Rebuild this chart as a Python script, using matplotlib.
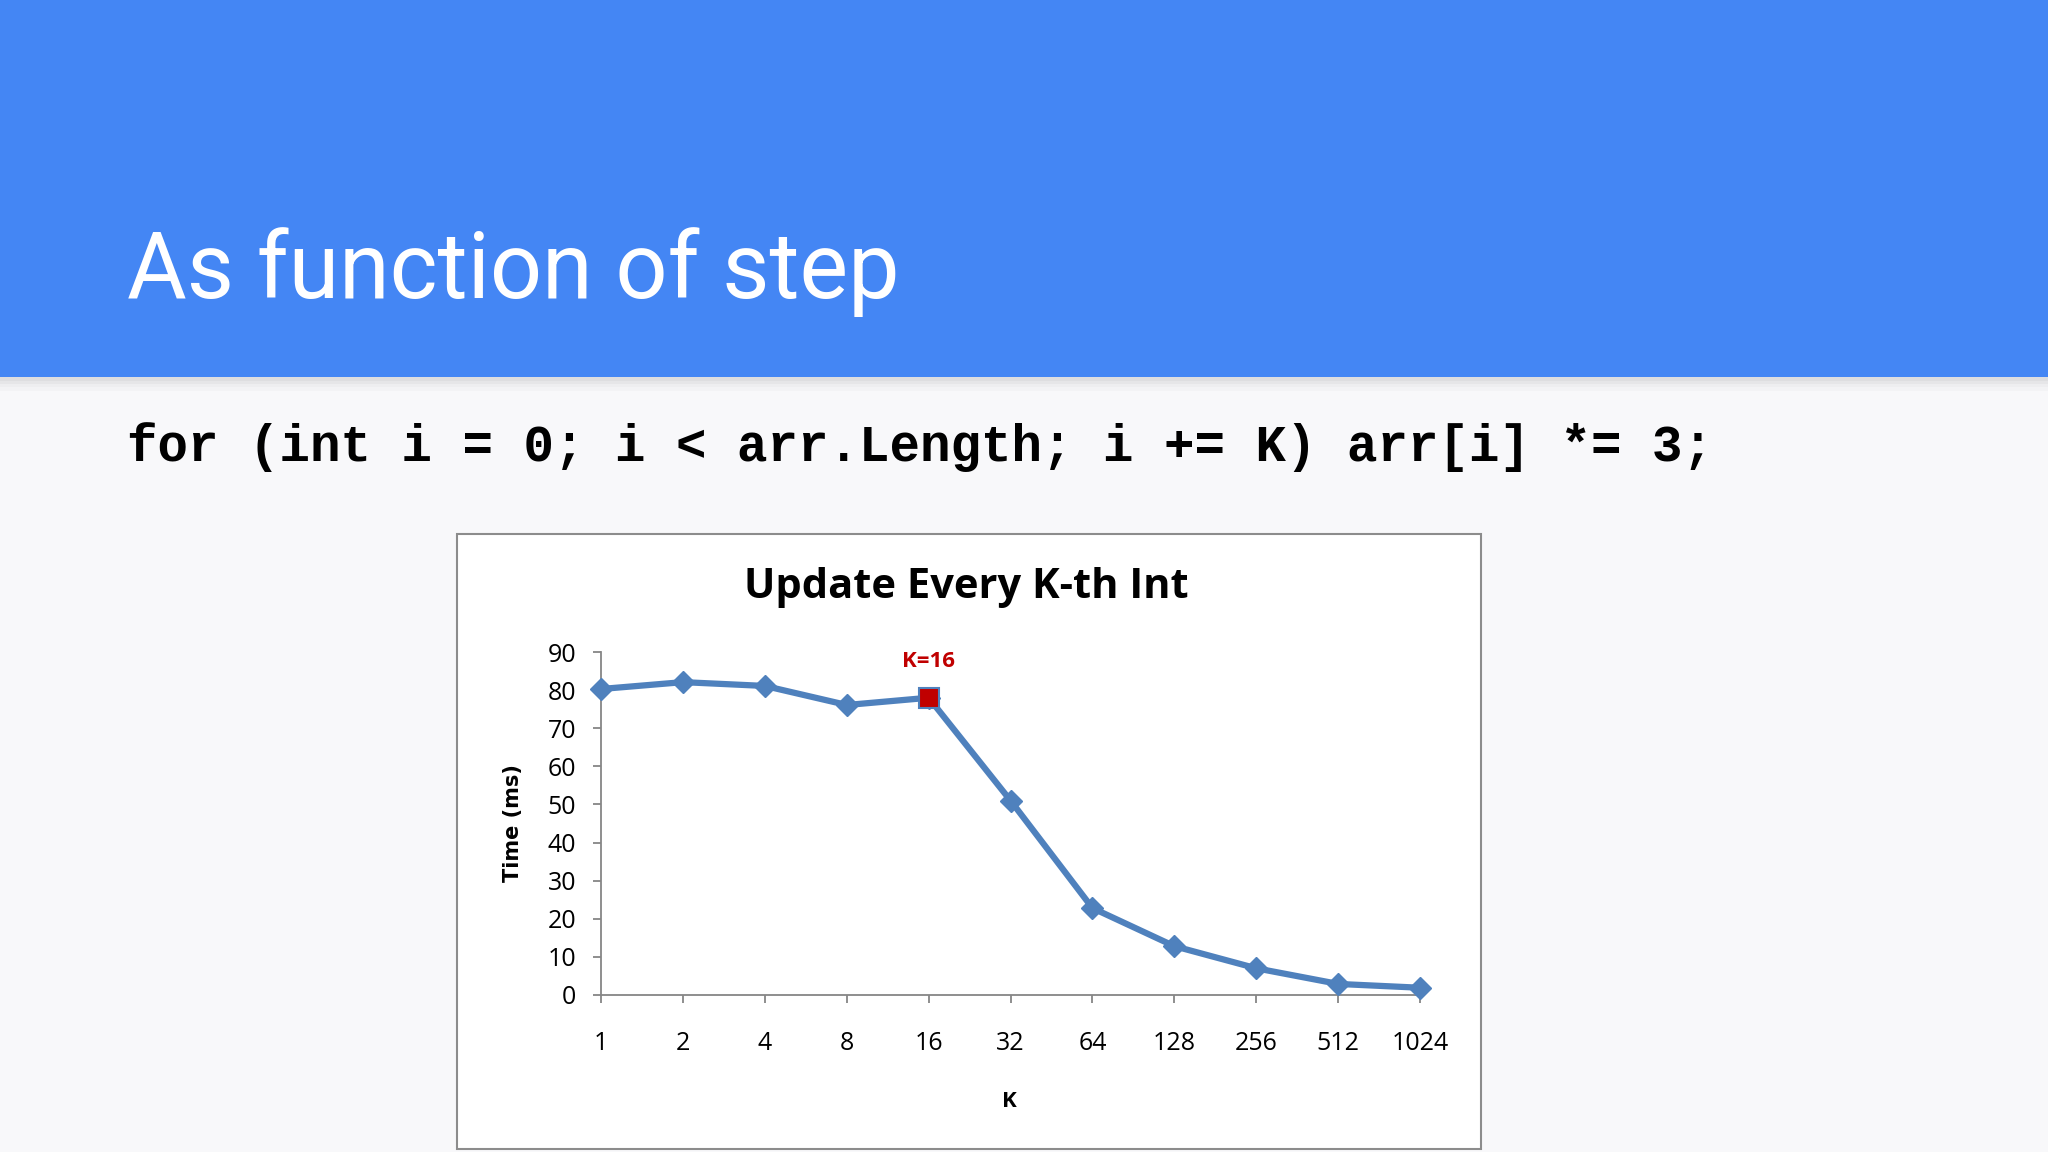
import matplotlib
matplotlib.use('Agg')
import matplotlib.pyplot as plt
from matplotlib.patches import Rectangle

# data
k_labels = ['1', '2', '4', '8', '16', '32', '64', '128', '256', '512', '1024']
time_ms = [80.3, 82.1, 81.1, 76.1, 78.0, 51.0, 22.8, 12.8, 7.0, 2.9, 1.9]
highlight = 4   # K=16
y_ticks = [0, 10, 20, 30, 40, 50, 60, 70, 80, 90]

slide_title = 'As function of step'
code_line = 'for (int i = 0; i < arr.Length; i += K) arr[i] *= 3;'
chart_title = 'Update Every K-th Int'

blue = '#4486F4'
line_blue = '#4F81BD'
narrow = ['Liberation Sans Narrow', 'Open Sans', 'DejaVu Sans']

fig = plt.figure(figsize=(20.48, 11.52), dpi=100)
fig.patch.set_facecolor('#F8F8FA')

# header band with a soft shadow underneath
for i, a in enumerate([0.10, 0.07, 0.04, 0.02]):
    fig.add_artist(Rectangle((0, 0.6727 - (i + 1) * 0.003), 1, 0.003,
                             transform=fig.transFigure, color='black', alpha=a, lw=0))
fig.add_artist(Rectangle((0, 0.6727), 1, 0.33, transform=fig.transFigure,
                         color=blue, lw=0))
fig.text(0.062, 0.741, slide_title, color='white', fontsize=66,
         family=['Roboto', 'DejaVu Sans'], va='baseline')
fig.text(0.062, 0.612, code_line, color='black', fontsize=36.5, fontweight='bold',
         family=['Liberation Mono', 'DejaVu Sans Mono'], va='center')

# chart frame
fig.add_artist(Rectangle((0.2231, 0.0026), 0.5, 0.534, transform=fig.transFigure,
                         facecolor='white', edgecolor='#8C8C8C', lw=1.5, zorder=-1))
fig.text(0.4717, 0.4896, chart_title, fontsize=30, fontweight='bold',
         family=narrow, ha='center', va='center')

ax = fig.add_axes([0.2935, 0.1363, 0.3999, 0.2977])
ax.set_zorder(5)
ax.patch.set_alpha(0)
x = list(range(len(k_labels)))
ax.plot(x, time_ms, color=line_blue, lw=4.5, marker='D', markersize=11,
        markerfacecolor=line_blue, markeredgecolor=line_blue, zorder=3,
        clip_on=False)
ax.plot([highlight], [time_ms[highlight]], marker='s', markersize=14,
        markerfacecolor='#C00000', markeredgecolor=line_blue, markeredgewidth=1.5,
        linestyle='none', zorder=4, clip_on=False)
ax.annotate('K=16', (highlight, time_ms[highlight]), xytext=(0, 26),
            textcoords='offset points', ha='center', va='center', color='#C00000',
            fontsize=16, fontweight='bold', family=narrow)

ax.set_xlim(0, len(k_labels) - 1)
ax.set_ylim(0, 90)
ax.set_xticks(x)
ax.set_xticklabels(k_labels)
ax.set_yticks(y_ticks)
for s in ['top', 'right']:
    ax.spines[s].set_visible(False)
for s in ['left', 'bottom']:
    ax.spines[s].set_color('#868686')
    ax.spines[s].set_linewidth(1.3)
ax.tick_params(axis='x', length=6, width=1.3, color='#868686', pad=20, labelsize=18)
ax.tick_params(axis='y', length=6, width=1.3, color='#868686', pad=12, labelsize=18)
for lab in ax.get_xticklabels() + ax.get_yticklabels():
    lab.set_family(narrow)

ax.set_xlabel('K', fontsize=16, fontweight='bold', family=narrow)
ax.set_ylabel('Time (ms)', fontsize=15, fontweight='bold', family=['DejaVu Sans'])
ax.xaxis.set_label_coords(0.498, -0.28)
ax.yaxis.set_label_coords(-0.095, 0.5)

fig.savefig('out.png', dpi=100, facecolor=fig.get_facecolor())
